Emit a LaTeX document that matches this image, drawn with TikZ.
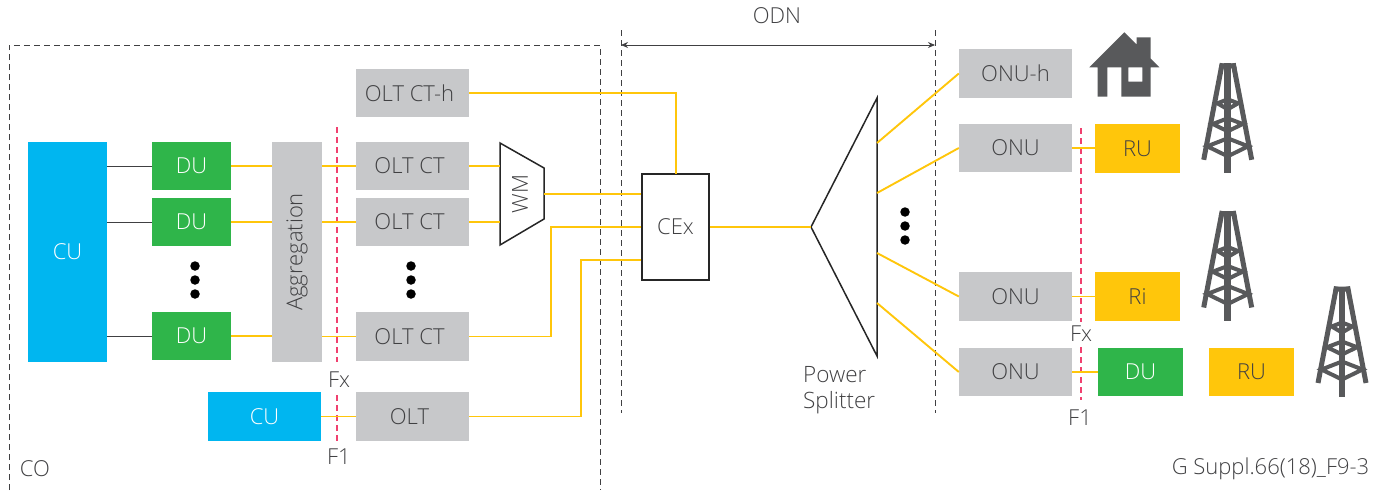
\documentclass[tikz,border=0pt]{standalone}
\usepackage{fontspec}
\setmainfont{Open Sans Light}
\usetikzlibrary{arrows.meta}
\definecolor{ylw}{HTML}{FFC60B}
\definecolor{gry}{HTML}{C7C8CA}
\definecolor{grn}{HTML}{2FB54A}
\definecolor{blu}{HTML}{00B6F0}
\definecolor{pnk}{HTML}{F0406F}
\definecolor{drk}{HTML}{58595B}
\definecolor{txt}{HTML}{404042}
\tikzset{
  lbl/.style={font=\fontsize{22}{26}\selectfont, text=txt, inner sep=0pt},
  bx/.style={lbl, minimum width=#1, minimum height=48.5pt, draw=none},
  gbox/.style={bx=113pt, fill=gry},
  dubox/.style={bx=79pt, fill=grn, text=white},
  rubox/.style={bx=85pt, fill=ylw},
  pon/.style={draw=ylw, line width=1.9pt},
  cpri/.style={draw=txt, line width=0.9pt},
  dsh/.style={draw=txt, line width=0.9pt, dash pattern=on 6pt off 4pt},
  fdash/.style={draw=pnk, line width=1.3pt, dash pattern=on 6pt off 4pt},
  dotm/.style={circle, fill=black, minimum size=9.5pt, inner sep=0pt},
  outl/.style={draw=black!85, line width=1.5pt, fill=white},
  tower/.pic={
    \fill[drk] (-7.5,0) -- (7.5,0) -- (9,5) -- (-9,5) -- cycle;
    \draw[drk, line width=5pt, line join=miter]
      (-5.5,0) -- (-24,96.5) (5.5,0) -- (24,96.5);
    \draw[drk, line width=6.5pt] (0,0) -- (0,110);
    \draw[drk, line width=4pt]
      (-10.3,40) -- (0,36) -- (10.3,40) -- (0,46) -- cycle
      (-15,60.7) -- (0,55) -- (15,60.7) -- (0,68) -- cycle
      (-20.5,83) -- (0,75) -- (20.5,83) -- (0,93) -- cycle;
  }
}
\begin{document}
\begin{tikzpicture}[x=1pt,y=-1pt]
\useasboundingbox (0,0) rectangle (1381,490);
% dashed frames
\coordinate (coTL) at (9,45); \coordinate (coTR) at (600,45);
\coordinate (coBL) at (9,490); \coordinate (coBR) at (600,490);
\draw[dsh] (coBL) -- (coTL) -- (coTR) -- (coBR);
\coordinate (odnLT) at (621,30); \coordinate (odnLB) at (621,413);
\coordinate (odnRT) at (935,30); \coordinate (odnRB) at (935,413);
\draw[dsh] (odnLT) -- (odnLB);
\draw[dsh] (odnRT) -- (odnRB);
\coordinate (odnA) at (621,45); \coordinate (odnB) at (935,45);
\draw[txt, line width=0.9pt, {Stealth[length=7pt,width=6pt]}-{Stealth[length=7pt,width=6pt]}] (odnA) -- (odnB);
\node[lbl] (odn) at (777,16) {ODN};
\node[lbl] (co) at (35,469) {CO};
\node[lbl] (ref) at (1270.5,469) {G Suppl.66(18)\_F9-3};
% Fx / F1 reference points
\coordinate (f1a) at (337,127); \coordinate (f1b) at (337,362);
\coordinate (f1c) at (337,395); \coordinate (f1d) at (337,442);
\draw[fdash] (f1a) -- (f1b) (f1c) -- (f1d);
\coordinate (f2a) at (1081,128); \coordinate (f2b) at (1081,322);
\coordinate (f2c) at (1081,347); \coordinate (f2d) at (1081,400);
\draw[fdash] (f2a) -- (f2b) (f2c) -- (f2d);
\node[lbl] (fx1) at (339,380) {Fx};
\node[lbl] (f11) at (339,457) {F1};
\node[lbl] (fx2) at (1081,334) {Fx};
\node[lbl] (f12) at (1080,418) {F1};
% boxes
\node[bx=79pt, minimum height=220pt, fill=blu, text=white] (cu) at (67.5,252) {CU};
\node[dubox] (du1) at (191.5,166) {DU};
\node[dubox] (du2) at (191.5,222) {DU};
\node[dubox] (du3) at (191.5,336) {DU};
\node[bx=220pt, minimum height=50pt, fill=gry, rotate=90] (agg) at (297,252) {Aggregation};
\node[gbox] (ch) at (412.5,93) {OLT CT-h\hspace*{6pt}};
\node[gbox] (ct1) at (412.5,166) {OLT CT\hspace*{6pt}};
\node[gbox] (ct2) at (412.5,222) {OLT CT\hspace*{6pt}};
\node[gbox] (ct3) at (412.5,336.5) {OLT CT\hspace*{6pt}};
\node[gbox, fill=blu, text=white] (cu2) at (264.5,416.5) {CU};
\node[gbox] (olt) at (412.5,416.5) {OLT\hspace*{6pt}};
\node[gbox] (onuh) at (1015.5,73.5) {ONU-h};
\node[gbox] (onu1) at (1015.5,148) {ONU};
\node[gbox] (onu2) at (1015.5,296.5) {ONU};
\node[gbox] (onu3) at (1015.5,372) {ONU};
\node[rubox] (ru1) at (1137.5,148.5) {RU};
\node[rubox] (ri) at (1137.5,296.5) {Ri};
\node[rubox, fill=grn, text=white] (du4) at (1140.5,372) {DU};
\node[rubox] (ru2) at (1251.5,372) {RU};
\node[lbl, minimum width=67pt, minimum height=106pt, draw=black!85, line width=1.8pt, fill=white] (cex) at (675.5,227) {CEx};
\coordinate (cexTop) at (676,174);
% WM and splitter
\coordinate (wa) at (500,143); \coordinate (wb) at (544,168);
\coordinate (wc) at (544,219); \coordinate (wd) at (500,245);
\coordinate (wout) at (544,193.7);
\coordinate (w1) at (500,166); \coordinate (w2) at (500,222);
\draw[outl] (wa) -- (wb) -- (wc) -- (wd) -- cycle;
\node[lbl, rotate=90] (wm) at (520,194) {WM};
\coordinate (sa) at (811,227); \coordinate (sb) at (877,98); \coordinate (sc) at (877,356);
\draw[outl] (sa) -- (sb) -- (sc) -- cycle;
\coordinate (s1) at (877,143); \coordinate (s2) at (877,193);
\coordinate (s3) at (877,253); \coordinate (s4) at (877,303);
\node[lbl, align=left, anchor=north west, font=\fontsize{22.5}{26}\selectfont] (ps) at (803,366) {Power\\Splitter};
% connectors
\foreach \a in {1,2,3} \draw[cpri] (cu.east |- du\a) -- (du\a.west);
\foreach \a in {1,2,3} {
  \draw[pon] (du\a.east) -- (du\a -| agg.north);
  \draw[pon] (ct\a -| agg.south) -- (ct\a.west);
}
\draw[pon] (ct1.east) -- (w1);
\draw[pon] (ct2.east) -- (w2);
\draw[pon] (wout) -- (wout -| cex.west);
\draw[pon] (ct3.east) -| (551,227) -- (cex.west);
\draw[pon] (olt.east) -| (581,260) -- (cex.west |- 581,260);
\draw[pon] (ch.east) -| (cexTop);
\draw[pon] (cex.east) -- (sa);
\draw[pon] (cu2.east) -- (olt.west);
\draw[pon] (s1) -- (onuh.west);
\draw[pon] (s2) -- (onu1.west);
\draw[pon] (s3) -- (onu2.west);
\draw[pon] (s4) -- (onu3.west);
\draw[pon] (onu1.east) -- (ru1.west |- onu1);
\draw[pon] (onu2.east) -- (ri.west);
\draw[pon] (onu3.east) -- (du4.west);
% dots
\foreach \x/\n in {195/a,411/b} \foreach \y/\m in {266/1,280/2,294/3} \node[dotm] (d\n\m) at (\x,\y) {};
\foreach \y/\m in {212/1,226/2,240/3} \node[dotm] (dc\m) at (905,\y) {};
% house
\fill[drk,even odd rule] (1124.3,32.3) -- (1136.7,44.5) -- (1136.7,37.3) -- (1150.7,37.3) -- (1150.7,58.7) -- (1159.3,67.3) -- (1150.7,67.3) -- (1150.7,96.7) -- (1121.3,96.7) -- (1121.3,67.3) -- (1107.3,67.3) -- (1107.3,96.7) -- (1097.7,96.7) -- (1097.7,67.3) -- (1089.3,67.3) -- cycle
  (1128.3,67.3) rectangle (1142.3,81.7);
% towers
\pic at (1227.7,63.3) {tower};
\pic at (1227.7,211) {tower};
\pic at (1342,286.5) {tower};
\end{tikzpicture}
\end{document}
